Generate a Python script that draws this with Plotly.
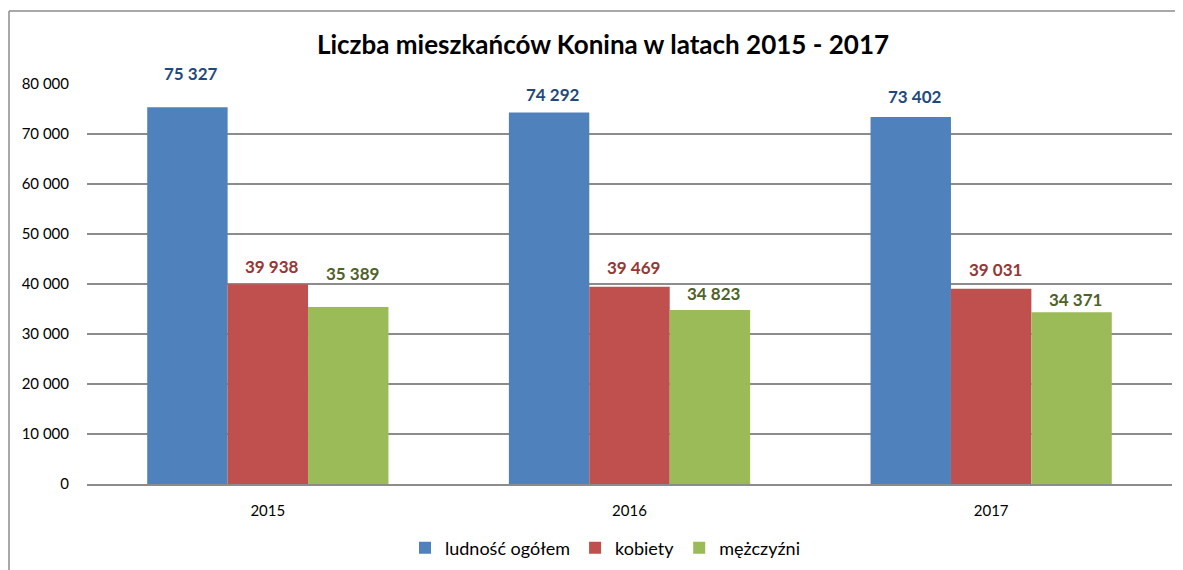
import plotly.graph_objects as go

years = ["2015", "2016", "2017"]
series_names = ["ludność ogółem", "kobiety", "mężczyźni"]
ludnosc = [75327, 74292, 73402]
kobiety = [39938, 39469, 39031]
mezczyzni = [35389, 34823, 34371]
y_ticks = [0, 10000, 20000, 30000, 40000, 50000, 60000, 70000, 80000]

series_values = [ludnosc, kobiety, mezczyzni]
bar_colors = ["#4F81BD", "#C0504D", "#9BBB59"]
label_colors = ["#1F497D", "#953735", "#4F6228"]
# vertical label offsets (px) above bar tops, as in the reference
label_shift = [[34, 18, 20], [18, 19, 19], [34, 16, 13]]

FONT = "Lato, 'Open Sans', sans-serif"

# page has an 8px body margin; work in page pixels and convert
OFF = 8
W, H = 1183 - OFF, 570 - OFF
plot_left, plot_right, plot_top, plot_bottom = 87, 1172, 84, 484  # page px
ml = plot_left - OFF
mt = plot_top - OFF
mr = (W + OFF) - plot_right
mb = (H + OFF) - plot_bottom
plot_w = plot_right - plot_left
plot_h = plot_bottom - plot_top

fig = go.Figure()
for name, vals, col in zip(series_names, series_values, bar_colors):
    fig.add_trace(go.Bar(
        x=years, y=vals, name=name,
        marker=dict(color=col, line=dict(width=0)),
        hoverinfo="x+y+name",
    ))

bargap = 0.333
bar_px = plot_w / len(years) * (1 - bargap) / 3

annotations = []
for i, (vals, lc) in enumerate(zip(series_values, label_colors)):
    for j, v in enumerate(vals):
        annotations.append(dict(
            x=j, y=v, xref="x", yref="y",
            text="<b>" + f"{v:,}".replace(",", " ") + "</b>",
            showarrow=False, xanchor="center", yanchor="middle",
            xshift=(i - 1) * bar_px + 4, yshift=label_shift[i][j],
            font=dict(family=FONT, size=17, color=lc),
        ))

def px_to_paper_x(px):
    return (px - plot_left) / plot_w
def px_to_paper_y(py):
    return (plot_bottom - py) / plot_h

shapes = [
    dict(type="line", xref="paper", yref="paper",
         x0=px_to_paper_x(9), x1=px_to_paper_x(1200),
         y0=px_to_paper_y(11), y1=px_to_paper_y(11),
         line=dict(color="#8C8C8C", width=1.5)),
    dict(type="line", xref="paper", yref="paper",
         x0=px_to_paper_x(9), x1=px_to_paper_x(9),
         y0=px_to_paper_y(11), y1=px_to_paper_y(600),
         line=dict(color="#8C8C8C", width=1.5)),
]

fig.update_layout(
    width=W, height=H,
    margin=dict(l=ml, r=mr, t=mt, b=mb, autoexpand=False),
    paper_bgcolor="white", plot_bgcolor="white",
    separators=", ",
    barmode="group", bargap=bargap, bargroupgap=0,
    title=dict(text="<b>Liczba mieszkańców Konina w latach 2015 - 2017</b>",
               x=(603 - OFF) / W, xanchor="center",
               y=1 - (45 - OFF) / H, yanchor="middle",
               font=dict(family=FONT, size=26, color="#000000")),
    font=dict(family=FONT, size=15, color="#000000"),
    xaxis=dict(type="category", categoryorder="array", categoryarray=years,
               range=[-0.5, len(years) - 0.5], autorange=False,
               showgrid=False, showline=True,
               linecolor="#8C8C8C", linewidth=2,
               ticks="", tickfont=dict(size=15), ticklabelstandoff=12),
    yaxis=dict(range=[0, 80000], autorange=False, tickvals=y_ticks, tickformat=",d",
               showgrid=True, gridcolor="#8C8C8C", gridwidth=1.5,
               zeroline=False, showline=False, ticks="",
               tickfont=dict(size=15), ticklabelstandoff=17),
    legend=dict(orientation="h", x=px_to_paper_x(605), xanchor="center",
                y=px_to_paper_y(548), yanchor="middle",
                font=dict(family=FONT, size=18), itemwidth=30,
                traceorder="normal", bgcolor="rgba(0,0,0,0)"),
    annotations=annotations,
    shapes=shapes,
)

fig.write_html("out.html")
